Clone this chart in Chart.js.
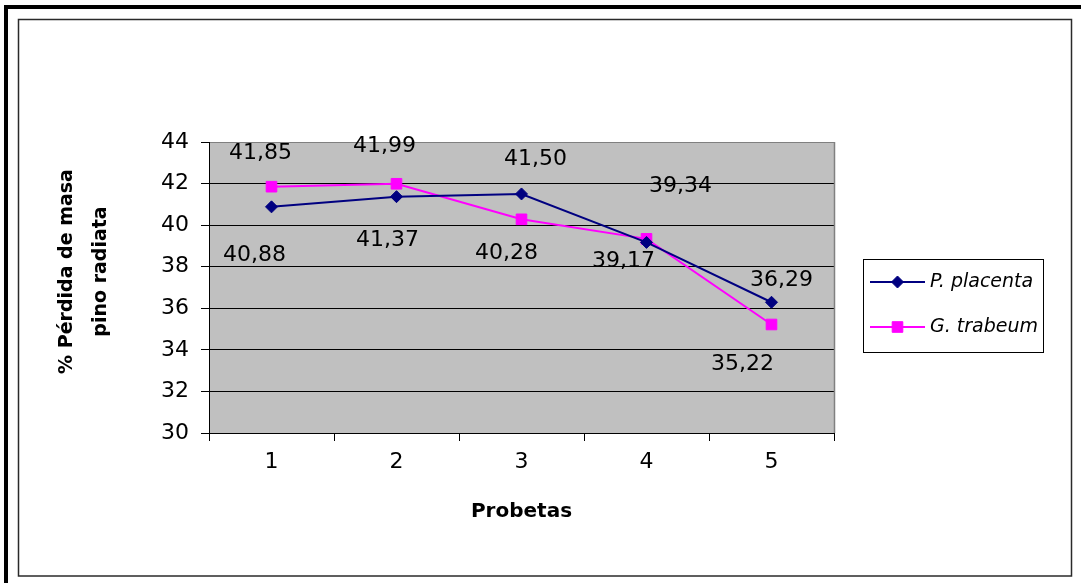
<!DOCTYPE html>
<html>
<head>
<meta charset="utf-8">
<script src="https://cdn.jsdelivr.net/npm/chart.js@4/dist/chart.umd.min.js"></script>
<style>
  html, body { margin: 0; padding: 0; background: #fff; overflow: hidden; }
  #c { display: block; }
</style>
</head>
<body>
<canvas id="c" width="1081" height="583"></canvas>
<script>
// Mass loss of radiata pine specimens for two decay fungi
const probetas = ['1', '2', '3', '4', '5'];
const placentaLoss = [40.88, 41.37, 41.50, 39.17, 36.29];
const trabeumLoss = [41.85, 41.99, 40.28, 39.34, 35.22];
const yTicks = [30, 32, 34, 36, 38, 40, 42, 44];
const seriesNames = ['P. placenta', 'G. trabeum'];
const yTitle = ['% Pérdida de masa', 'pino radiata'];
const xTitle = 'Probetas';

const FONT = 'DejaVu Sans';

// where each value label sits relative to its point (px)
const labelNudge = [
  [[-17, 48], [-9, 44], [14, -35], [-23, 19], [10, -22]],
  [[-11, -33], [-12, -37], [-15, 34], [34, -53], [-29, 40]]
];

const fmt = v => v.toFixed(2).replace('.', ',');

// page frame, plot background and plot border
const framePlugin = {
  id: 'frame',
  beforeDraw(chart) {
    const { ctx, chartArea: a } = chart;
    ctx.save();
    ctx.fillStyle = '#fff';
    ctx.fillRect(0, 0, chart.width, chart.height);
    ctx.fillStyle = '#000';
    ctx.fillRect(4, 5, chart.width - 4, 4);
    ctx.fillRect(4, 5, 4, chart.height - 5);
    ctx.strokeStyle = '#2a2a2a';
    ctx.lineWidth = 1.5;
    ctx.strokeRect(18.5, 19.5, 1053, 556.5);
    ctx.fillStyle = '#c0c0c0';
    ctx.fillRect(a.left, a.top, a.right - a.left, a.bottom - a.top);
    ctx.restore();
  },
  beforeDatasetsDraw(chart) {
    const { ctx, chartArea: a } = chart;
    ctx.save();
    ctx.strokeStyle = '#808080';
    ctx.lineWidth = 1.5;
    ctx.beginPath();
    ctx.moveTo(a.right + 0.5, a.top);
    ctx.lineTo(a.right + 0.5, a.bottom);
    ctx.stroke();
    ctx.restore();
  }
};

// value labels beside each point
const valueLabels = {
  id: 'valueLabels',
  afterDatasetsDraw(chart) {
    const { ctx } = chart;
    ctx.save();
    ctx.font = '22px "' + FONT + '"';
    ctx.fillStyle = '#000';
    ctx.textAlign = 'center';
    ctx.textBaseline = 'middle';
    chart.data.datasets.forEach((ds, di) => {
      const meta = chart.getDatasetMeta(di);
      meta.data.forEach((pt, i) => {
        const [dx, dy] = labelNudge[di][i];
        ctx.fillText(fmt(ds.data[i]), pt.x + dx, pt.y + dy);
      });
    });
    ctx.restore();
  }
};

// two-line rotated title for the value axis
const yTitlePlugin = {
  id: 'yTitle',
  afterDraw(chart) {
    const { ctx } = chart;
    ctx.save();
    ctx.font = 'bold 19px "' + FONT + '"';
    ctx.fillStyle = '#000';
    ctx.textAlign = 'center';
    ctx.textBaseline = 'middle';
    const xs = [67.5, 101.5];
    yTitle.forEach((line, i) => {
      ctx.save();
      ctx.translate(xs[i], 271.5);
      ctx.rotate(-Math.PI / 2);
      ctx.fillText(line, 0, 0);
      ctx.restore();
    });
    ctx.restore();
  }
};

// boxed legend on the right
const legendBox = {
  id: 'legendBox',
  afterDraw(chart) {
    const { ctx } = chart;
    const bx = 863, by = 259, bw = 180, bh = 93;
    ctx.save();
    ctx.fillStyle = '#fff';
    ctx.fillRect(bx, by, bw, bh);
    ctx.strokeStyle = '#000';
    ctx.lineWidth = 1;
    ctx.strokeRect(bx + 0.5, by + 0.5, bw, bh);
    chart.data.datasets.forEach((ds, i) => {
      const y = 282 + i * 45;
      ctx.strokeStyle = ds.borderColor;
      ctx.lineWidth = ds.borderWidth;
      ctx.beginPath();
      ctx.moveTo(870, y);
      ctx.lineTo(925, y);
      ctx.stroke();
      ctx.fillStyle = ds.pointBackgroundColor;
      ctx.strokeStyle = ds.pointBorderColor;
      ctx.lineWidth = 1;
      Chart.helpers.drawPoint(ctx, {
        pointStyle: ds.pointStyle,
        radius: ds.pointRadius,
        borderWidth: 1
      }, 897.5, y);
      ctx.fillStyle = '#000';
      ctx.font = 'italic 19px "' + FONT + '"';
      ctx.textAlign = 'left';
      ctx.textBaseline = 'middle';
      ctx.fillText(ds.label, 930, y);
    });
    ctx.restore();
  }
};

new Chart(document.getElementById('c'), {
  type: 'line',
  data: {
    labels: probetas,
    datasets: [
      {
        label: seriesNames[0],
        data: placentaLoss,
        borderColor: '#000080',
        backgroundColor: '#000080',
        borderWidth: 2,
        pointStyle: 'rectRot',
        pointRadius: 6,
        pointBackgroundColor: '#000080',
        pointBorderColor: '#000080',
        pointBorderWidth: 1,
        tension: 0
      },
      {
        label: seriesNames[1],
        data: trabeumLoss,
        borderColor: '#ff00ff',
        backgroundColor: '#ff00ff',
        borderWidth: 2,
        pointStyle: 'rect',
        pointRadius: 7.5,
        pointBackgroundColor: '#ff00ff',
        pointBorderColor: '#ff00ff',
        pointBorderWidth: 1,
        tension: 0
      }
    ]
  },
  options: {
    responsive: false,
    animation: false,
    devicePixelRatio: 1,
    layout: { padding: { top: 142, right: 247, bottom: 59, left: 0 } },
    plugins: {
      legend: { display: false },
      tooltip: { enabled: false },
      title: { display: false }
    },
    scales: {
      x: {
        type: 'category',
        offset: true,
        afterFit(s) { s.height = 91; },
        grid: {
          offset: true,
          drawOnChartArea: false,
          drawTicks: true,
          tickLength: 8,
          color: '#000',
          tickColor: '#000'
        },
        border: { color: '#000', width: 1 },
        ticks: {
          color: '#000',
          padding: 8,
          maxRotation: 0,
          font: { family: FONT, size: 22 }
        },
        title: {
          display: true,
          text: xTitle,
          color: '#000',
          padding: { top: 0, bottom: 0 },
          font: { family: FONT, size: 20, weight: 'bold' }
        }
      },
      y: {
        min: yTicks[0],
        max: yTicks[yTicks.length - 1],
        afterFit(s) { s.width = 209; },
        afterBuildTicks(s) { s.ticks = yTicks.map(v => ({ value: v })); },
        grid: {
          drawTicks: true,
          tickLength: 8,
          color: ctx => (ctx.tick && ctx.tick.value === yTicks[yTicks.length - 1]) ? '#808080' : '#000',
          tickColor: '#000'
        },
        border: { color: '#000', width: 1 },
        ticks: {
          color: '#000',
          padding: 12,
          font: { family: FONT, size: 22 }
        }
      }
    }
  },
  plugins: [framePlugin, valueLabels, yTitlePlugin, legendBox]
});
</script>
</body>
</html>
